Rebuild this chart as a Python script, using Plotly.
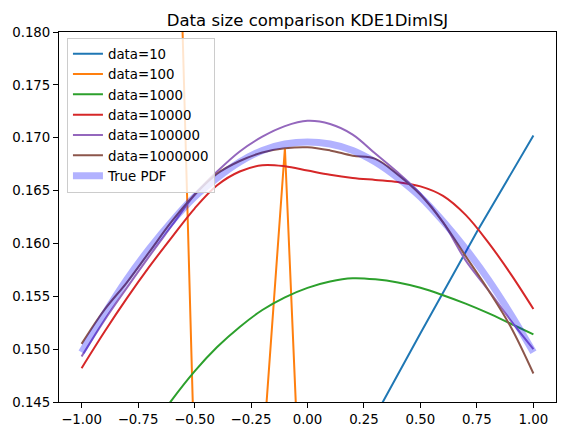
import plotly.graph_objects as go

# ---- data ----
x_grid = [-1.0, -0.9, -0.8, -0.7, -0.6, -0.5, -0.4, -0.3, -0.2, -0.1, 0.0,
          0.1, 0.2, 0.3, 0.4, 0.5, 0.6, 0.7, 0.8, 0.9, 1.0]

x_d10 = [-1.0, -0.5, 0.0, 0.25, 0.5, 0.75, 1.0]
y_d10 = [0.0850, 0.1080, 0.1320, 0.1418, 0.1515, 0.1611, 0.1702]

y_d100 = [0.2500, 0.3000, 0.2800, 0.2400, 0.2166, 0.1388, 0.1200, 0.1100, 0.1394, 0.1690, 0.1190,
          0.1000, 0.0950, 0.0900, 0.0850, 0.0800, 0.0750, 0.0700, 0.0650, 0.0600, 0.0550]

y_d1000 = [0.1304, 0.1347, 0.1386, 0.1421, 0.1452, 0.1479, 0.1502, 0.1521, 0.1537, 0.1549, 0.1558,
           0.1564, 0.1567, 0.1566, 0.1563, 0.1558, 0.1551, 0.1543, 0.1534, 0.1524, 0.1514]

y_d10000 = [0.1482, 0.1516, 0.1548, 0.1578, 0.1606, 0.1633, 0.1655, 0.1668, 0.1674, 0.1673, 0.1669,
            0.1665, 0.1662, 0.1660, 0.1658, 0.1654, 0.1645, 0.1627, 0.1601, 0.1571, 0.1538]

y_d100000 = [0.1493, 0.1527, 0.1558, 0.1588, 0.1617, 0.1646, 0.1668, 0.1687, 0.1701, 0.1711, 0.1716,
             0.1713, 0.1703, 0.1685, 0.1667, 0.1647, 0.1620, 0.1584, 0.1556, 0.1527, 0.1500]

y_d1000000 = [0.1505, 0.1537, 0.1563, 0.1592, 0.1621, 0.1646, 0.1666, 0.1678, 0.1686, 0.1690, 0.1691,
              0.1688, 0.1683, 0.1680, 0.1665, 0.1646, 0.1620, 0.1588, 0.1556, 0.1521, 0.1477]

y_true = [0.1497, 0.1533, 0.1566, 0.1595, 0.1621, 0.1644, 0.1662, 0.1677, 0.1688, 0.1694, 0.1696,
          0.1694, 0.1688, 0.1677, 0.1662, 0.1644, 0.1621, 0.1595, 0.1566, 0.1533, 0.1497]

x_ticks = [-1.0, -0.75, -0.5, -0.25, 0.0, 0.25, 0.5, 0.75, 1.0]
y_ticks = [0.145, 0.150, 0.155, 0.160, 0.165, 0.170, 0.175, 0.180]

series = [
    ("data=10", x_d10, y_d10, "#1f77b4", "linear"),
    ("data=100", x_grid, y_d100, "#ff7f0e", "linear"),
    ("data=1000", x_grid, y_d1000, "#2ca02c", "spline"),
    ("data=10000", x_grid, y_d10000, "#d62728", "spline"),
    ("data=100000", x_grid, y_d100000, "#9467bd", "spline"),
    ("data=1000000", x_grid, y_d1000000, "#8c564b", "spline"),
]

FONT = "DejaVu Sans"
fig = go.Figure()
for name, xs, ys, col, shape in series:
    fig.add_trace(go.Scatter(x=xs, y=ys, mode="lines", name=name,
                             line=dict(color=col, width=2, shape=shape)))
fig.add_trace(go.Scatter(x=x_grid, y=y_true, mode="lines", name="True PDF",
                         line=dict(color="rgba(0,0,255,0.3)", width=7, shape="spline")))

axis_common = dict(showline=True, mirror=True, linecolor="black", linewidth=1,
                   ticks="outside", ticklen=5, tickwidth=1, tickcolor="black",
                   showgrid=False, zeroline=False,
                   tickfont=dict(family=FONT, size=13.33, color="black"))

fig.update_layout(
    width=565, height=435,
    margin=dict(l=59, r=9, t=32, b=33),
    paper_bgcolor="white", plot_bgcolor="white",
    title=dict(text="Data size comparison KDE1DimISJ", x=0.5, xref="paper",
               y=1 - 20 / 435, yref="container", yanchor="middle", xanchor="center",
               font=dict(family=FONT, size=16.5, color="black")),
    xaxis=dict(range=[-1.1, 1.1], tickvals=x_ticks, tickformat=".2f", **axis_common),
    yaxis=dict(range=[0.145, 0.18], tickvals=y_ticks, tickformat=".3f", **axis_common),
    legend=dict(x=0.016, y=0.985, xanchor="left", yanchor="top",
                bgcolor="rgba(255,255,255,0.8)", bordercolor="#cccccc", borderwidth=1,
                font=dict(family=FONT, size=13.33, color="black"), itemwidth=30,
                tracegroupgap=0),
    showlegend=True,
)

fig.write_html("out.html")
